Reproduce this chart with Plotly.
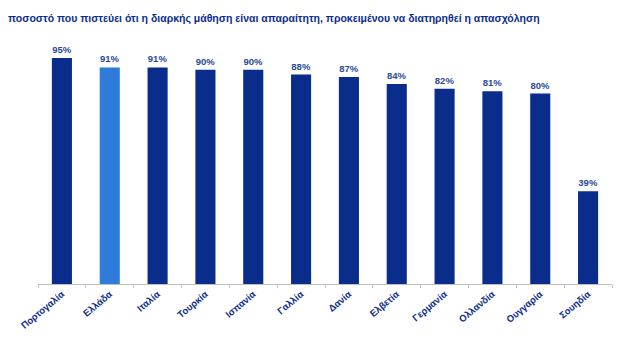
import plotly.graph_objects as go

countries = ["Πορτογαλία", "Ελλάδα", "Ιταλία", "Τουρκία", "Ισπανία", "Γαλλία",
             "Δανία", "Ελβετία", "Γερμανία", "Ολλανδία", "Ουγγαρία", "Σουηδία"]
values = [95, 91, 91, 90, 90, 88, 87, 84, 82, 81, 80, 39]
labels = [f"<b>{v}%</b>" for v in values]
title_text = "ποσοστό που πιστεύει ότι η διαρκής μάθηση είναι απαραίτητη, προκειμένου να διατηρηθεί η απασχόληση"

dark = "#0A2D8C"
light = "#2F7BD8"
colors = [light if c == "Ελλάδα" else dark for c in countries]
font_fam = "Liberation Sans Narrow, Arial Narrow, sans-serif"

fig = go.Figure(go.Bar(
    x=countries, y=values, text=labels, textposition="outside",
    marker=dict(color=colors, line=dict(width=0)),
    textfont=dict(family=font_fam, size=9.5, color="#2A4A95"),
    cliponaxis=False, width=0.42,
))

fig.update_layout(
    width=621, height=349,
    margin=dict(l=38, r=9, t=46, b=65),
    paper_bgcolor="white", plot_bgcolor="white",
    showlegend=False,
    title=dict(text=f"<b>{title_text}</b>", x=0.013, xanchor="left", y=0.948, yanchor="middle",
               font=dict(family=font_fam, size=10.5, color="#0A2D8C")),
    xaxis=dict(showline=True, linecolor="#BFBFBF", linewidth=1, ticks="outside", tickson="boundaries",
               ticklen=3, tickcolor="#BFBFBF", tickangle=-40,
               tickfont=dict(family=font_fam, size=9.5, color="#0A2D8C", weight="bold")),
    yaxis=dict(range=[0, 100], visible=False, showgrid=False),
)

fig.write_html("out.html")
